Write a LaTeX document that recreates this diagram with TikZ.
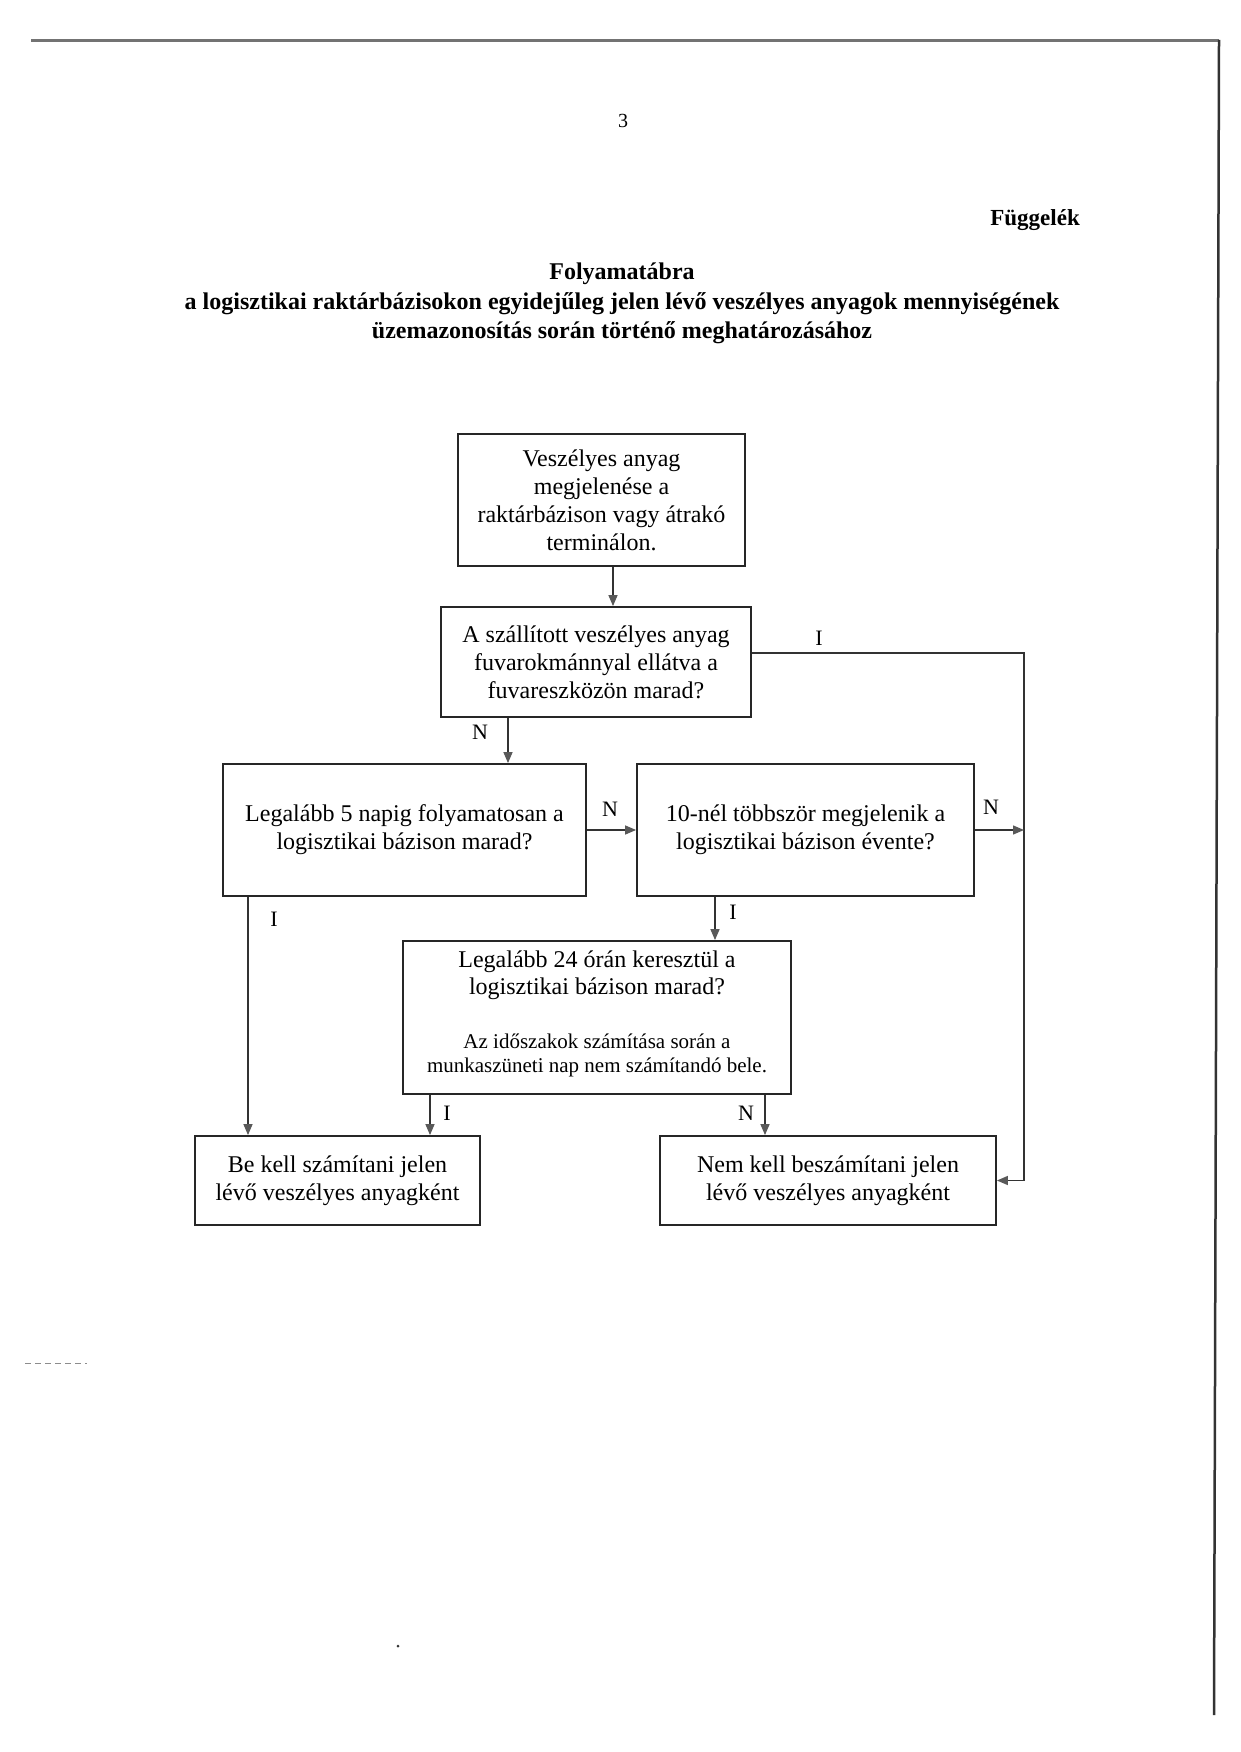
\documentclass[tikz,border=0pt]{standalone}
\usepackage{fontspec}
\setmainfont{Liberation Serif}
\usetikzlibrary{arrows.meta}
\begin{document}
\begin{tikzpicture}[x=1pt,y=-1pt,
  box/.style={draw=black!85, line width=1.8pt, inner sep=0pt, align=center, font=\fontsize{24}{28}\selectfont},
  conn/.style={draw=black!80, line width=1.4pt},
  arr/.style={conn, -{Triangle[length=11pt,width=9pt,fill=black!65,color=black!65]}},
  lbl/.style={font=\fontsize{22}{26}\selectfont, inner sep=0pt},
  ttl/.style={anchor=base, font=\bfseries\fontsize{24}{28}\selectfont, inner sep=0pt},
  intext/.style={inner sep=0pt, align=center},
]
\useasboundingbox[fill=white] (0,0) rectangle (1240,1752);

% page frame (scan)
\draw[line width=3pt, black!55] (31,41) -- (1219,41);
\draw[line width=2.5pt, black!80] (1219,40) -- (1214,1715);

% header
\node[anchor=base, font=\fontsize{20}{24}\selectfont, inner sep=0pt] (pg) at (623,128) {3};
\node[ttl, anchor=base east, font=\bfseries\fontsize{23}{27}\selectfont] (fg) at (1080,226) {Függelék};
\node[ttl] (t1) at (622,280) {Folyamatábra};
\node[ttl] (t2) at (622,309) {a logisztikai raktárbázisokon egyidejűleg jelen lévő veszélyes anyagok mennyiségének};
\node[ttl] (t3) at (622,338) {üzemazonosítás során történő meghatározásához};

% boxes
\node[box, minimum width=287pt, minimum height=132pt] (b1) at (601.5,500)
  {Veszélyes anyag\\megjelenése a\\raktárbázison vagy átrakó\\terminálon.};
\node[box, minimum width=310pt, minimum height=110pt] (b2) at (596,662)
  {A szállított veszélyes anyag\\fuvarokmánnyal ellátva a\\fuvareszközön marad?};
\node[box, minimum width=363pt, minimum height=132pt] (b3) at (404.5,830)
  {Legalább 5 napig folyamatosan a\\logisztikai bázison marad?};
\node[box, minimum width=337pt, minimum height=132pt] (b4) at (805.5,830)
  {10-nél többször megjelenik a\\logisztikai bázison évente?};
\node[box, minimum width=388pt, minimum height=153pt] (b24) at (597,1017.5) {};
\node[intext, font=\fontsize{24}{27}\selectfont] (b24a) at (597,975)
  {Legalább 24 órán keresztül a\\logisztikai bázison marad?};
\node[intext, font=\fontsize{21}{24}\selectfont] (b24b) at (597,1055)
  {Az időszakok számítása során a\\munkaszüneti nap nem számítandó bele.};
\node[box, minimum width=285pt, minimum height=89pt] (b5) at (337.5,1180.5)
  {Be kell számítani jelen\\lévő veszélyes anyagként};
\node[box, minimum width=336pt, minimum height=89pt] (b6) at (828,1180.5)
  {Nem kell beszámítani jelen\\lévő veszélyes anyagként};

% connector x positions
\coordinate (x1) at (613,0);
\coordinate (x2) at (508,0);
\coordinate (x3) at (248,0);
\coordinate (x4) at (715,0);
\coordinate (x5) at (430,0);
\coordinate (x6) at (765,0);
\coordinate (rl) at (1024,653);

% connectors
\draw[arr] (b1.south -| x1) -- (b2.north -| x1);
\draw[arr] (b2.south -| x2) -- (b3.north -| x2);
\draw[arr] (b2.east |- rl) -- (rl) -- (rl |- b6.east) -- (b6.east);
\draw[arr] (b3.east) -- (b4.west);
\draw[arr] (b4.east) -- (b4.east -| rl);
\draw[arr] (b3.south -| x3) -- (b5.north -| x3);
\draw[arr] (b4.south -| x4) -- (b24.north -| x4);
\draw[arr] (b24.south -| x5) -- (b5.north -| x5);
\draw[arr] (b24.south -| x6) -- (b6.north -| x6);

% labels
\node[lbl] (l1) at (819,638) {I};
\node[lbl] (l2) at (480,732) {N};
\node[lbl] (l3) at (610,809) {N};
\node[lbl] (l4) at (991,807) {N};
\node[lbl] (l5) at (274,919) {I};
\node[lbl] (l6) at (733,912) {I};
\node[lbl] (l7) at (447,1113) {I};
\node[lbl] (l8) at (746,1113) {N};

% scan marks
\draw[black!45, line width=1pt, dash pattern=on 6pt off 4pt] (25,1363) -- (87,1363);
\fill[black!80] (398,1646) circle (1.5pt);
\end{tikzpicture}
\end{document}
